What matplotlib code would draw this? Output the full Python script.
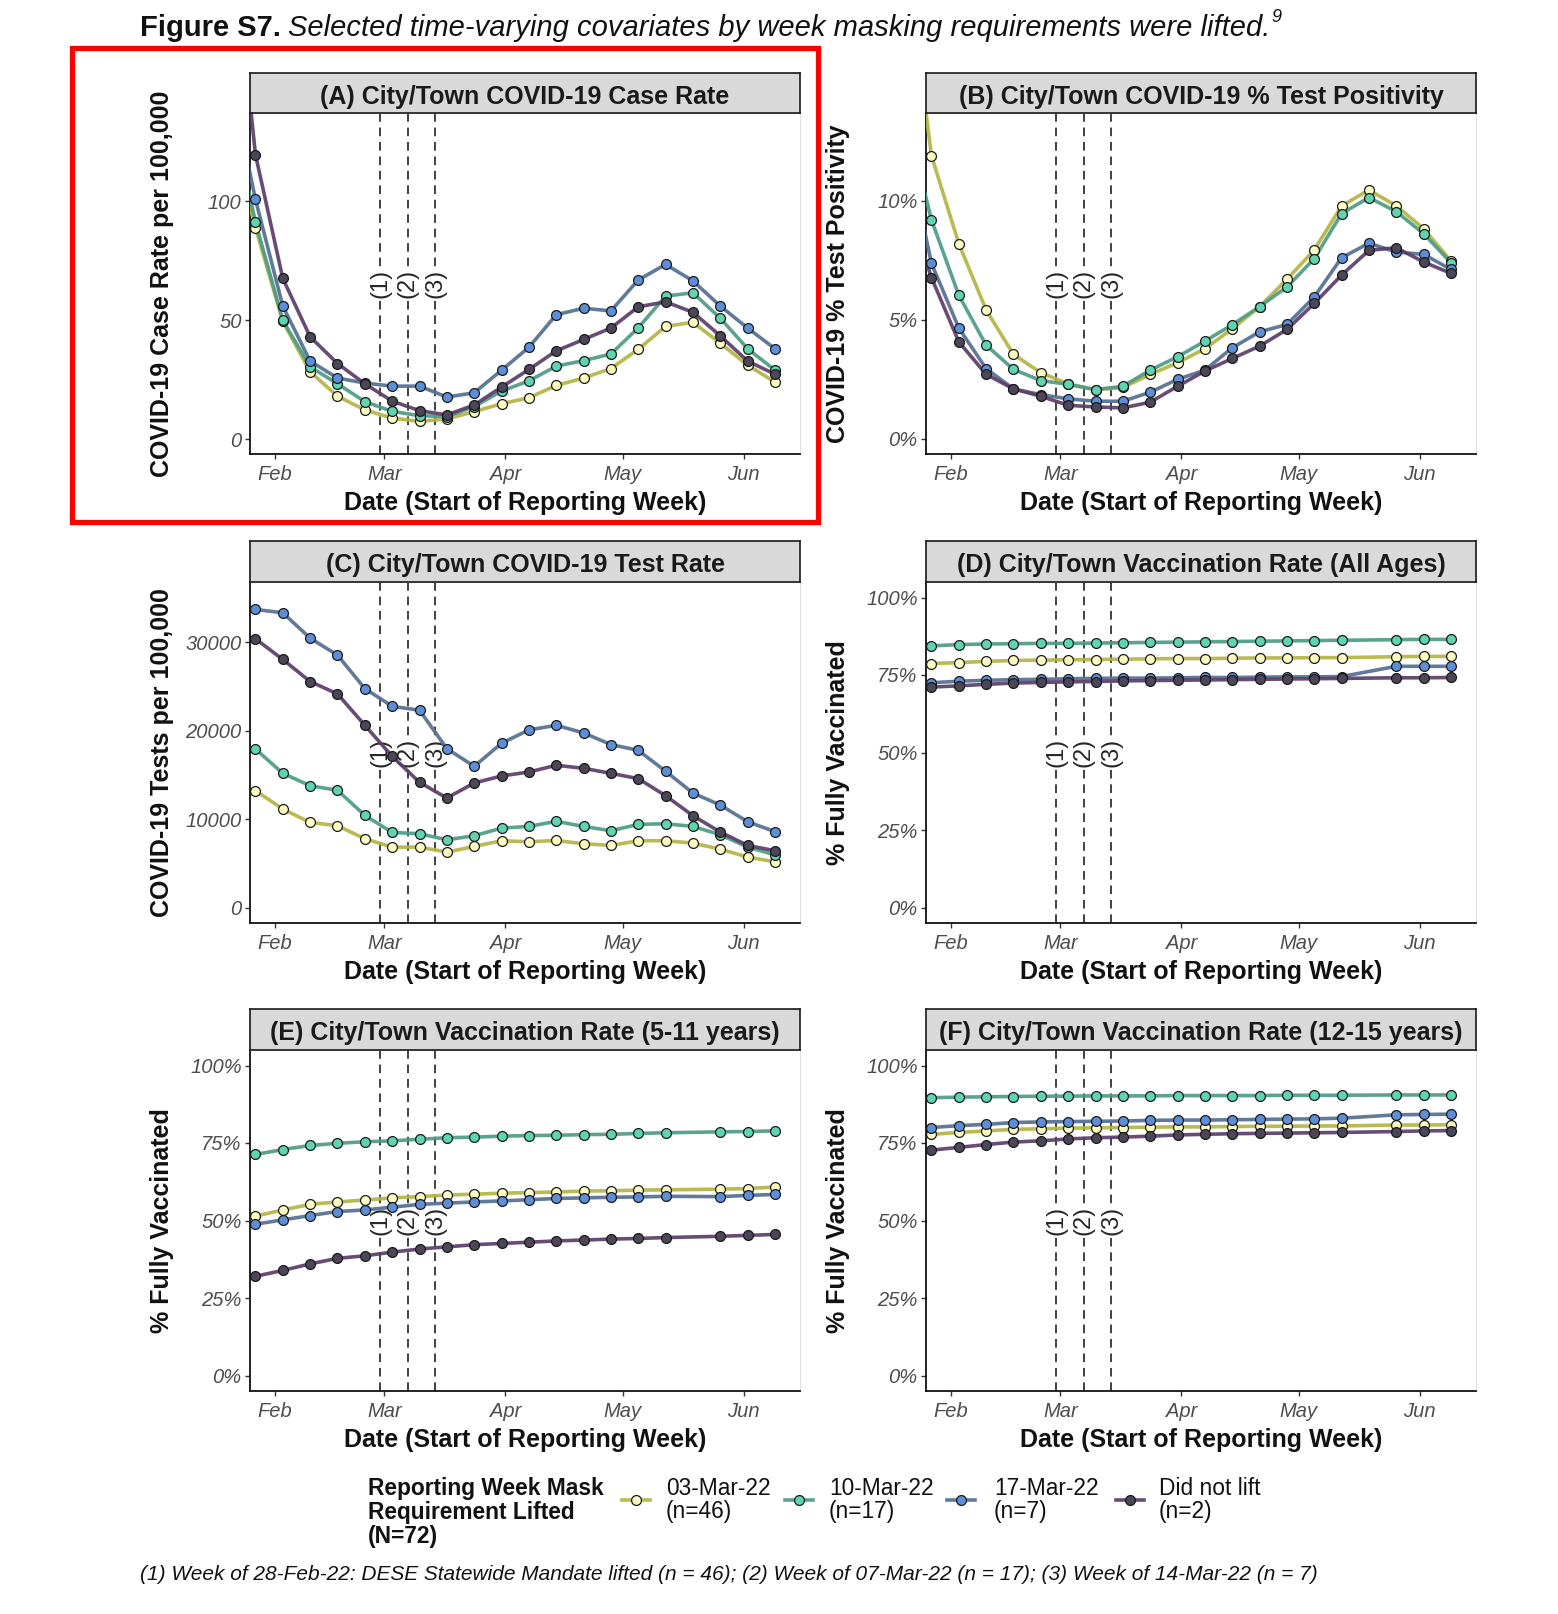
import numpy as np
import pandas as pd
import matplotlib
matplotlib.use('Agg')
import matplotlib.pyplot as plt
from matplotlib.lines import Line2D
from matplotlib.patches import Rectangle

plt.rcParams['font.family'] = ['Liberation Sans', 'DejaVu Sans']

# ---------------- data ----------------
dates_ab = pd.date_range('2022-01-20', '2022-06-09', freq='7D')   # panels A, B (first week clipped)
dates = pd.date_range('2022-01-27', '2022-06-09', freq='7D')      # panels C-F
lift_dates = pd.to_datetime(['2022-02-28', '2022-03-07', '2022-03-14'])
lift_labels = ['(1)', '(2)', '(3)']

groups = ['03-Mar-22', '10-Mar-22', '17-Mar-22', 'Did not lift']
group_n = ['(n=46)', '(n=17)', '(n=7)', '(n=2)']

# (A) case rate per 100,000
case_rate = {
    '03-Mar-22': [133, 88.8, 49.5, 28.3, 18.1, 12.3, 8.9, 7.5, 8.5, 11.6, 14.9, 17.4, 22.6, 25.7, 29.7, 37.8, 47.4, 49.1, 40.3, 31.1, 24.0],
    '10-Mar-22': [144, 91.2, 49.9, 30.4, 23.3, 15.8, 11.7, 9.9, 9.5, 13.7, 20.2, 24.5, 30.7, 33.0, 35.8, 46.8, 60.1, 61.5, 50.8, 38.0, 29.0],
    '17-Mar-22': [156, 100.7, 55.9, 32.8, 25.7, 23.6, 22.3, 22.3, 17.7, 19.5, 29.0, 38.6, 52.3, 55.0, 53.9, 66.9, 73.4, 66.5, 55.9, 46.7, 38.0],
    'Did not lift': [230, 119.5, 67.5, 43.0, 31.8, 23.3, 16.0, 12.0, 10.2, 14.4, 21.9, 29.3, 37.1, 41.9, 46.7, 55.6, 57.7, 53.3, 43.4, 32.8, 27.3],
}
# (B) % test positivity
test_pos = {
    '03-Mar-22': [21.0, 11.9, 8.2, 5.41, 3.54, 2.77, 2.30, 2.05, 2.15, 2.70, 3.19, 3.78, 4.62, 5.55, 6.70, 7.94, 9.79, 10.46, 9.79, 8.83, 7.47],
    '10-Mar-22': [13.9, 9.2, 6.03, 3.93, 2.91, 2.44, 2.28, 2.06, 2.20, 2.88, 3.44, 4.10, 4.79, 5.55, 6.38, 7.57, 9.47, 10.14, 9.55, 8.62, 7.40],
    '17-Mar-22': [12.8, 7.37, 4.65, 2.94, 2.09, 1.85, 1.67, 1.57, 1.57, 1.95, 2.49, 2.88, 3.82, 4.49, 4.80, 5.96, 7.61, 8.22, 7.85, 7.75, 7.12],
    'Did not lift': [10.2, 6.77, 4.07, 2.70, 2.09, 1.78, 1.40, 1.33, 1.29, 1.53, 2.20, 2.84, 3.37, 3.89, 4.59, 5.69, 6.88, 7.92, 8.03, 7.43, 6.95],
}
# (C) tests per 100,000
test_rate = {
    '03-Mar-22': [13210, 11130, 9620, 9250, 7770, 6830, 6830, 6260, 6910, 7550, 7430, 7580, 7210, 7020, 7550, 7550, 7280, 6600, 5700, 5170],
    '10-Mar-22': [17920, 15170, 13770, 13250, 10420, 8490, 8340, 7660, 8110, 8980, 9170, 9740, 9170, 8680, 9400, 9470, 9170, 8230, 6830, 5960],
    '17-Mar-22': [33700, 33320, 30450, 28530, 24750, 22750, 22300, 17960, 15960, 18570, 20080, 20600, 19740, 18420, 17770, 15400, 12940, 11580, 9700, 8570],
    'Did not lift': [30380, 28040, 25550, 24150, 20600, 17090, 14150, 12380, 14080, 14870, 15320, 16080, 15740, 15170, 14570, 12640, 10380, 8530, 7020, 6420],
}
nan = np.nan
# (D) vaccination all ages (%)
vax_all = {
    '03-Mar-22': [78.7, 79.0, 79.4, 79.7, 79.8, 79.9, 80.0, 80.1, 80.2, 80.3, 80.3, 80.4, 80.5, 80.5, 80.6, 80.6, nan, 80.9, 81.0, 81.0],
    '10-Mar-22': [84.4, 84.8, 85.0, 85.1, 85.2, 85.2, 85.3, 85.4, 85.5, 85.6, 85.7, 85.8, 85.9, 86.0, 86.1, 86.2, nan, 86.4, 86.5, 86.5],
    '17-Mar-22': [72.5, 73.0, 73.3, 73.5, 73.6, 73.8, 73.9, 74.0, 74.0, 74.1, 74.2, 74.2, 74.3, 74.4, 74.4, 74.5, nan, 77.8, 77.8, 77.8],
    'Did not lift': [71.1, 71.5, 72.0, 72.4, 72.6, 72.8, 72.9, 73.1, 73.2, 73.3, 73.4, 73.5, 73.6, 73.7, 73.8, 73.9, nan, 74.1, 74.1, 74.2],
}
# (E) vaccination 5-11 years (%)
vax_5_11 = {
    '03-Mar-22': [51.4, 53.4, 55.2, 56.0, 56.6, 57.3, 57.7, 58.2, 58.5, 58.8, 59.0, 59.2, 59.5, 59.6, 59.8, 59.9, nan, 60.1, 60.3, 60.8],
    '10-Mar-22': [71.3, 72.9, 74.2, 74.9, 75.4, 75.7, 76.2, 76.7, 76.9, 77.2, 77.4, 77.5, 77.7, 77.8, 78.1, 78.3, nan, 78.6, 78.7, 78.9],
    '17-Mar-22': [48.8, 50.2, 51.6, 52.9, 53.4, 54.3, 55.2, 55.6, 56.0, 56.3, 56.7, 57.1, 57.3, 57.5, 57.6, 57.8, nan, 57.7, 58.1, 58.4],
    'Did not lift': [32.0, 33.9, 36.0, 37.8, 38.6, 39.8, 40.8, 41.5, 42.2, 42.6, 43.0, 43.4, 43.7, 44.0, 44.2, 44.5, nan, 44.9, 45.2, 45.5],
}
# (F) vaccination 12-15 years (%)
vax_12_15 = {
    '03-Mar-22': [77.8, 78.4, 78.9, 79.4, 79.6, 79.8, 79.9, 80.0, 80.1, 80.2, 80.2, 80.3, 80.4, 80.4, 80.5, 80.5, nan, 80.8, 80.8, 80.9],
    '10-Mar-22': [89.6, 89.8, 89.9, 90.0, 90.1, 90.1, 90.2, 90.2, 90.2, 90.3, 90.3, 90.3, 90.3, 90.4, 90.4, 90.4, nan, 90.5, 90.5, 90.5],
    '17-Mar-22': [80.0, 80.6, 81.0, 81.6, 81.8, 81.9, 82.0, 82.1, 82.3, 82.4, 82.4, 82.5, 82.6, 82.7, 82.8, 83.0, nan, 84.1, 84.2, 84.3],
    'Did not lift': [72.7, 73.6, 74.5, 75.3, 75.7, 76.3, 76.7, 76.9, 77.2, 77.6, 77.8, 78.0, 78.1, 78.2, 78.3, 78.4, nan, 78.7, 78.9, 79.0],
}

month_ticks = pd.to_datetime(['2022-02-01', '2022-03-01', '2022-04-01', '2022-05-01', '2022-06-01'])
month_labels = ['Feb', 'Mar', 'Apr', 'May', 'Jun']

# ---------------- style ----------------
line_colors = ['#b4b444', '#4e9b86', '#546f92', '#5b3d69']
fill_colors = ['#fdfdc2', '#5ed4b0', '#5c8fd8', '#4b4758']

W, H = 1558, 1614
fig = plt.figure(figsize=(W / 100, H / 100), dpi=100)
fig.patch.set_facecolor('white')

col_x = [250, 926]
ax_w = 550
rows = [(73, 113, 454), (541, 582, 923), (1009, 1050, 1391)]  # strip top, plot top, plot bottom

x_lo = pd.Timestamp('2022-02-01') - pd.Timedelta(days=6.4)
x_hi = pd.Timestamp('2022-06-09') + pd.Timedelta(days=6.4)

TICK_FS = 14.5
TITLE_FS = 18


def fig_rect(x0, y_top, w, y_bot):
    return [x0 / W, 1 - y_bot / H, w / W, (y_bot - y_top) / H]


def draw_panel(r, c, xdates, series, title, ylabel, ylim, yticks, yticklabels):
    st, pt, pb = rows[r]
    x0 = col_x[c]
    ax = fig.add_axes(fig_rect(x0, pt, ax_w, pb))
    sax = fig.add_axes(fig_rect(x0, st, ax_w, pt))
    sax.set_facecolor('#d9d9d9')
    sax.set_xticks([]); sax.set_yticks([])
    for s in sax.spines.values():
        s.set_color('#1a1a1a'); s.set_linewidth(1.2)
    sax.text(0.5, 0.47, title, ha='center', va='center_baseline', fontsize=TITLE_FS,
             fontweight='bold', color='#1a1a1a', transform=sax.transAxes)

    ax.set_xlim(x_lo, x_hi)
    ax.set_ylim(*ylim)
    ymid = (ylim[0] + ylim[1]) / 2
    for d, lab in zip(lift_dates, lift_labels):
        ax.axvline(d, color='#333333', lw=1.3, ls=(0, (4.8, 3.2)), zorder=1)
        ax.text(d, ymid, lab, rotation=90, ha='center', va='center', fontsize=17,
                color='#262626', zorder=2,
                bbox=dict(boxstyle='square,pad=0.1', fc='white', ec='none'))
    xd = np.array(xdates)
    for g, lc in zip(groups, line_colors):
        v = np.array(series[g], dtype=float)
        m = ~np.isnan(v)
        ax.plot(xd[m], v[m], color=lc, lw=2.6, alpha=0.92, zorder=3,
                solid_capstyle='round', solid_joinstyle='round')
    for g, fc in zip(groups, fill_colors):
        v = np.array(series[g], dtype=float)
        m = ~np.isnan(v)
        ax.plot(xd[m], v[m], ls='none', marker='o', ms=7.1, mfc=fc,
                mec='#1a1a1a', mew=0.9, zorder=4)

    ax.set_xticks(month_ticks)
    ax.set_xticklabels(month_labels)
    ax.set_yticks(yticks)
    ax.set_yticklabels(yticklabels)
    ax.tick_params(direction='out', length=3.5, width=1.0, color='#333333',
                   labelsize=TICK_FS, labelcolor='#4d4d4d', pad=2.5)
    ax.tick_params(axis='x', pad=4.5)
    for lab in ax.get_xticklabels() + ax.get_yticklabels():
        lab.set_fontstyle('italic')
    for side in ['left', 'bottom']:
        ax.spines[side].set_color('#111111'); ax.spines[side].set_linewidth(1.3)
    for side in ['top', 'right']:
        ax.spines[side].set_color('#dedede'); ax.spines[side].set_linewidth(0.7)
    ax.text(0.5, -0.145, 'Date (Start of Reporting Week)', transform=ax.transAxes,
            ha='center', va='center', fontsize=TITLE_FS, fontweight='bold', color='#111111')
    ax.text(-0.16, 0.5, ylabel, transform=ax.transAxes, rotation=90,
            ha='center', va='center', fontsize=TITLE_FS, fontweight='bold', color='#111111')
    return ax


pct = ['0%', '25%', '50%', '75%', '100%']
draw_panel(0, 0, dates_ab, case_rate, '(A) City/Town COVID-19 Case Rate',
           'COVID-19 Case Rate per 100,000', (-6.2, 137), [0, 50, 100], ['0', '50', '100'])
draw_panel(0, 1, dates_ab, test_pos, '(B) City/Town COVID-19 % Test Positivity',
           'COVID-19 % Test Positivity', (-0.65, 13.7), [0, 5, 10], ['0%', '5%', '10%'])
draw_panel(1, 0, dates, test_rate, '(C) City/Town COVID-19 Test Rate',
           'COVID-19 Tests per 100,000', (-1750, 36800), [0, 10000, 20000, 30000],
           ['0', '10000', '20000', '30000'])
draw_panel(1, 1, dates, vax_all, '(D) City/Town Vaccination Rate (All Ages)',
           '% Fully Vaccinated', (-5, 105), [0, 25, 50, 75, 100], pct)
draw_panel(2, 0, dates, vax_5_11, '(E) City/Town Vaccination Rate (5-11 years)',
           '% Fully Vaccinated', (-5, 105), [0, 25, 50, 75, 100], pct)
draw_panel(2, 1, dates, vax_12_15, '(F) City/Town Vaccination Rate (12-15 years)',
           '% Fully Vaccinated', (-5, 105), [0, 25, 50, 75, 100], pct)

# ---------------- title ----------------
renderer = fig.canvas.get_renderer()
ty = 1 - 28 / H
TFS = 21
t1 = fig.text(140 / W, ty, 'Figure S7.', fontsize=TFS, fontweight='bold', va='center', color='#111111')
bb = t1.get_window_extent(renderer)
t2 = fig.text((bb.x1 + 7) / W, ty,
              'Selected time-varying covariates by week masking requirements were lifted.',
              fontsize=TFS, fontstyle='italic', va='center', color='#111111')
bb2 = t2.get_window_extent(renderer)
fig.text((bb2.x1 + 1) / W, ty + 10 / H, '9', fontsize=13, fontstyle='italic', va='center', color='#111111')

# red highlight box
fig.patches.append(Rectangle((72 / W, 1 - 522 / H), (818 - 72) / W, (522 - 48) / H,
                             transform=fig.transFigure, fill=False, ec='#ff0000', lw=3.8))

# ---------------- legend ----------------
LEG_FS = 16.4
fig.text(368 / W, 1 - 1477 / H, 'Reporting Week Mask\nRequirement Lifted\n(N=72)',
         fontsize=LEG_FS, fontweight='bold', va='top', ha='left', linespacing=1.05, color='#111111')
key_x = [622, 785, 947, 1116]
lab_x = [666, 829, 994, 1159]
ky = 1 - 1500 / H
for g, n, lc, fc, kx, lx in zip(groups, group_n, line_colors, fill_colors, key_x, lab_x):
    fig.lines.append(Line2D([kx / W, (kx + 28) / W], [ky, ky], transform=fig.transFigure,
                            color=lc, lw=2.6, alpha=0.92))
    fig.lines.append(Line2D([(kx + 14) / W], [ky], transform=fig.transFigure, ls='none',
                            marker='o', ms=7.1, mfc=fc, mec='#1a1a1a', mew=0.9))
    fig.text(lx / W, ky, g + '\n' + n, fontsize=LEG_FS, va='center', ha='left',
             linespacing=1.05, color='#111111')

# ---------------- footnote ----------------
fig.text(140 / W, 1 - 1574 / H,
         '(1) Week of 28-Feb-22: DESE Statewide Mandate lifted (n = 46); (2) Week of 07-Mar-22 (n = 17); (3) Week of 14-Mar-22 (n = 7)',
         fontsize=15, fontstyle='italic', va='center', ha='left', color='#111111')

fig.savefig('out.png', dpi=100, facecolor='white')
